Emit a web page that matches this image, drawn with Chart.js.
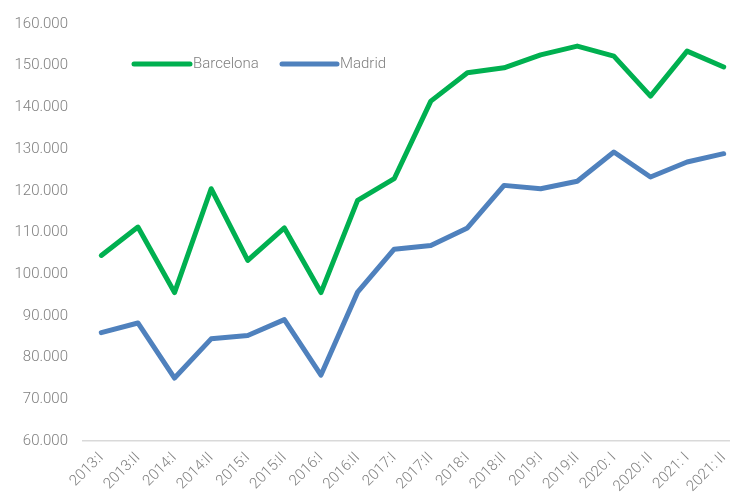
<!DOCTYPE html>
<html>
<head>
<meta charset="utf-8">
<script src="https://cdn.jsdelivr.net/npm/chart.js@4/dist/chart.umd.min.js"></script>
<style>
html,body{margin:0;padding:0;overflow:hidden;background:#fff;}
#wrap{width:760px;height:495px;}
</style>
</head>
<body>
<div id="wrap"><canvas id="c" width="760" height="495"></canvas></div>
<script>
const categories = ["2013:I","2013:II","2014:I","2014:II","2015:I","2015:II","2016:I","2016:II","2017:I","2017:II","2018:I","2018:II","2019:I","2019:II","2020: I","2020: II","2021: I","2021: II"];
const barcelona = [104500,111300,95600,120500,103300,111100,95600,117700,122900,141500,148300,149500,152600,154700,152300,142700,153500,149700];
const madrid = [86000,88300,75100,84500,85300,89100,75800,95700,106000,106900,111100,121300,120500,122300,129300,123300,126900,128900];
const seriesNames = ["Barcelona","Madrid"];
const seriesColors = ["#00B050","#4F81BD"];
const yMin = 60000, yMax = 160000, yStep = 10000;

const FONT = "Roboto, 'Liberation Sans', sans-serif";
const TXT = "#7f7f7f";

const legendPlugin = {
  id: 'insideLegend',
  afterDraw(chart) {
    const ctx = chart.ctx;
    const items = [{x0:134,x1:190,tx:193},{x0:282,x1:337,tx:340}];
    const y = 64;
    ctx.save();
    chart.data.datasets.forEach((ds, i) => {
      const it = items[i];
      ctx.strokeStyle = ds.borderColor;
      ctx.lineWidth = 5;
      ctx.lineCap = 'round';
      ctx.beginPath();
      ctx.moveTo(it.x0, y);
      ctx.lineTo(it.x1, y);
      ctx.stroke();
      ctx.fillStyle = TXT;
      ctx.font = "300 15px " + FONT;
      ctx.textBaseline = 'middle';
      ctx.textAlign = 'left';
      ctx.fillText(ds.label, it.tx, y);
    });
    ctx.restore();
  }
};

new Chart(document.getElementById('c'), {
  type: 'line',
  data: {
    labels: categories,
    datasets: [
      {label: seriesNames[0], data: barcelona, borderColor: seriesColors[0], backgroundColor: seriesColors[0], borderWidth: 5, pointRadius: 0, tension: 0, borderJoinStyle: 'round', borderCapStyle: 'round'},
      {label: seriesNames[1], data: madrid, borderColor: seriesColors[1], backgroundColor: seriesColors[1], borderWidth: 5, pointRadius: 0, tension: 0, borderJoinStyle: 'round', borderCapStyle: 'round'}
    ]
  },
  options: {
    responsive: false,
    animation: false,
    devicePixelRatio: 1,
    layout: {padding: {top: 23, right: 18, left: 0, bottom: 0}},
    plugins: {legend: {display: false}, tooltip: {enabled: false}},
    scales: {
      x: {
        offset: true,
        grid: {display: false, drawTicks: false},
        border: {display: true, color: '#d9d9d9', width: 1.5},
        ticks: {color: TXT, font: {family: FONT, size: 15, weight: 300}, maxRotation: 45, minRotation: 45, padding: 8, autoSkip: false},
        afterFit(s) { s.height = 54; }
      },
      y: {
        min: yMin, max: yMax,
        grid: {display: false, drawTicks: false},
        border: {display: false},
        ticks: {stepSize: yStep, color: TXT, font: {family: FONT, size: 15, weight: 300}, padding: 15,
          callback: v => v.toLocaleString('de-DE')},
        afterFit(s) { s.width = 83; }
      }
    }
  },
  plugins: [legendPlugin]
});
</script>
</body>
</html>
